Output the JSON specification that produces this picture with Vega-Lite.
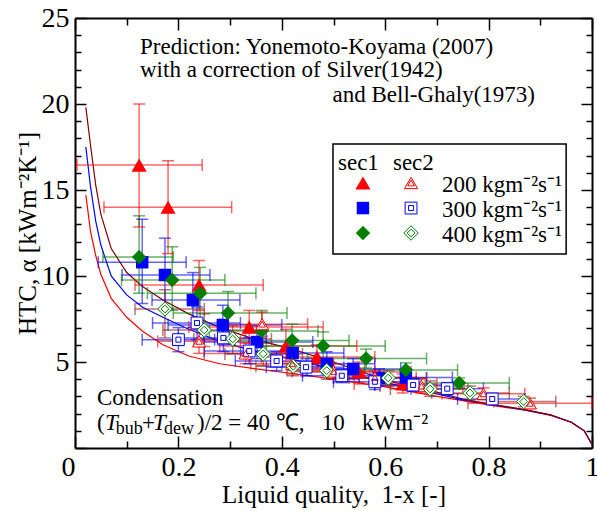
{
  "$schema": "https://vega.github.io/schema/vega-lite/v6.json",
  "width": 517,
  "height": 430,
  "autosize": {"type": "none"},
  "padding": {"left": 75, "top": 18, "right": 5, "bottom": 63},
  "background": "white",
  "config": {
    "view": {"stroke": null},
    "font": "Liberation Serif",
    "axis": {"grid": false, "domainColor": "black", "domainWidth": 2, "tickColor": "black", "tickWidth": 1.5, "labelColor": "black", "titleColor": "black", "labelFont": "Liberation Serif", "titleFont": "Liberation Serif", "labelFontSize": 28, "titleFontSize": 25, "titleFontWeight": "normal"}
  },
  "datasets": {
    "curves": [
      {"c": "G200", "x": 0.021, "y": 14.7}, {"c": "G200", "x": 0.03, "y": 12.6}, {"c": "G200", "x": 0.04, "y": 11.2}, {"c": "G200", "x": 0.05, "y": 10.1}, {"c": "G200", "x": 0.07, "y": 8.7}, {"c": "G200", "x": 0.1, "y": 7.6}, {"c": "G200", "x": 0.13, "y": 6.8}, {"c": "G200", "x": 0.17, "y": 6.0}, {"c": "G200", "x": 0.22, "y": 5.35}, {"c": "G200", "x": 0.28, "y": 4.9}, {"c": "G200", "x": 0.35, "y": 4.6}, {"c": "G200", "x": 0.42, "y": 4.33}, {"c": "G200", "x": 0.5, "y": 4.0}, {"c": "G200", "x": 0.6, "y": 3.55}, {"c": "G200", "x": 0.7, "y": 3.0}, {"c": "G200", "x": 0.75, "y": 2.75}, {"c": "G200", "x": 0.8, "y": 2.5}, {"c": "G200", "x": 0.87, "y": 2.2}, {"c": "G200", "x": 0.92, "y": 1.9}, {"c": "G200", "x": 0.96, "y": 1.5}, {"c": "G200", "x": 0.985, "y": 1.0}, {"c": "G200", "x": 1.0, "y": 0.2},
      {"c": "G300", "x": 0.021, "y": 17.5}, {"c": "G300", "x": 0.03, "y": 15.2}, {"c": "G300", "x": 0.04, "y": 13.2}, {"c": "G300", "x": 0.05, "y": 11.8}, {"c": "G300", "x": 0.07, "y": 10.0}, {"c": "G300", "x": 0.1, "y": 8.9}, {"c": "G300", "x": 0.13, "y": 8.2}, {"c": "G300", "x": 0.17, "y": 7.6}, {"c": "G300", "x": 0.22, "y": 6.9}, {"c": "G300", "x": 0.28, "y": 6.2}, {"c": "G300", "x": 0.35, "y": 5.6}, {"c": "G300", "x": 0.42, "y": 5.15}, {"c": "G300", "x": 0.5, "y": 4.6}, {"c": "G300", "x": 0.6, "y": 3.8}, {"c": "G300", "x": 0.7, "y": 3.15}, {"c": "G300", "x": 0.75, "y": 2.8}, {"c": "G300", "x": 0.8, "y": 2.55}, {"c": "G300", "x": 0.87, "y": 2.22}, {"c": "G300", "x": 0.92, "y": 1.92}, {"c": "G300", "x": 0.96, "y": 1.5}, {"c": "G300", "x": 0.985, "y": 1.0}, {"c": "G300", "x": 1.0, "y": 0.2},
      {"c": "G400", "x": 0.021, "y": 19.8}, {"c": "G400", "x": 0.03, "y": 17.6}, {"c": "G400", "x": 0.04, "y": 15.3}, {"c": "G400", "x": 0.05, "y": 13.6}, {"c": "G400", "x": 0.07, "y": 11.6}, {"c": "G400", "x": 0.1, "y": 10.2}, {"c": "G400", "x": 0.13, "y": 9.4}, {"c": "G400", "x": 0.17, "y": 8.6}, {"c": "G400", "x": 0.22, "y": 7.8}, {"c": "G400", "x": 0.28, "y": 7.0}, {"c": "G400", "x": 0.35, "y": 6.3}, {"c": "G400", "x": 0.42, "y": 5.75}, {"c": "G400", "x": 0.5, "y": 5.0}, {"c": "G400", "x": 0.6, "y": 3.95}, {"c": "G400", "x": 0.7, "y": 3.25}, {"c": "G400", "x": 0.75, "y": 2.85}, {"c": "G400", "x": 0.8, "y": 2.57}, {"c": "G400", "x": 0.87, "y": 2.24}, {"c": "G400", "x": 0.92, "y": 1.93}, {"c": "G400", "x": 0.96, "y": 1.5}, {"c": "G400", "x": 0.985, "y": 1.0}, {"c": "G400", "x": 1.0, "y": 0.2}
    ],
    "pts": [
      {"grp": "s1_200", "s": "sec1", "G": 200, "x": 0.124, "y": 16.45, "xlo": 0.004, "xhi": 0.246, "ylo": 12.85, "yhi": 20.0},
      {"grp": "s1_200", "s": "sec1", "G": 200, "x": 0.180, "y": 14.0, "xlo": 0.056, "xhi": 0.303, "ylo": 11.3, "yhi": 16.7},
      {"grp": "s1_200", "s": "sec1", "G": 200, "x": 0.240, "y": 9.48, "xlo": 0.116, "xhi": 0.364, "ylo": 8.0, "yhi": 10.9},
      {"grp": "s1_200", "s": "sec1", "G": 200, "x": 0.337, "y": 7.03, "xlo": 0.22, "xhi": 0.48, "ylo": 6.1, "yhi": 8.0},
      {"grp": "s1_200", "s": "sec1", "G": 200, "x": 0.408, "y": 5.93, "xlo": 0.28, "xhi": 0.545, "ylo": 5.0, "yhi": 6.9},
      {"grp": "s1_200", "s": "sec1", "G": 200, "x": 0.468, "y": 5.29, "xlo": 0.36, "xhi": 0.58, "ylo": 4.6, "yhi": 6.0},
      {"grp": "s1_200", "s": "sec1", "G": 200, "x": 0.549, "y": 4.42, "xlo": 0.44, "xhi": 0.65, "ylo": 3.8, "yhi": 5.0},
      {"grp": "s1_200", "s": "sec1", "G": 200, "x": 0.634, "y": 3.72, "xlo": 0.54, "xhi": 0.70, "ylo": 3.2, "yhi": 4.3},
      {"grp": "s1_300", "s": "sec1", "G": 300, "x": 0.130, "y": 10.8, "xlo": 0.045, "xhi": 0.215, "ylo": 8.4, "yhi": 13.3},
      {"grp": "s1_300", "s": "sec1", "G": 300, "x": 0.174, "y": 10.06, "xlo": 0.091, "xhi": 0.261, "ylo": 8.0, "yhi": 12.2},
      {"grp": "s1_300", "s": "sec1", "G": 300, "x": 0.228, "y": 8.6, "xlo": 0.149, "xhi": 0.319, "ylo": 7.0, "yhi": 10.2},
      {"grp": "s1_300", "s": "sec1", "G": 300, "x": 0.286, "y": 7.15, "xlo": 0.18, "xhi": 0.40, "ylo": 6.0, "yhi": 8.3},
      {"grp": "s1_300", "s": "sec1", "G": 300, "x": 0.352, "y": 6.16, "xlo": 0.25, "xhi": 0.46, "ylo": 5.2, "yhi": 7.1},
      {"grp": "s1_300", "s": "sec1", "G": 300, "x": 0.421, "y": 5.52, "xlo": 0.32, "xhi": 0.52, "ylo": 4.7, "yhi": 6.3},
      {"grp": "s1_300", "s": "sec1", "G": 300, "x": 0.487, "y": 4.9, "xlo": 0.40, "xhi": 0.58, "ylo": 4.3, "yhi": 5.6},
      {"grp": "s1_300", "s": "sec1", "G": 300, "x": 0.538, "y": 4.6, "xlo": 0.45, "xhi": 0.63, "ylo": 4.0, "yhi": 5.2},
      {"grp": "s1_300", "s": "sec1", "G": 300, "x": 0.588, "y": 4.07, "xlo": 0.50, "xhi": 0.68, "ylo": 3.6, "yhi": 4.6},
      {"grp": "s1_300", "s": "sec1", "G": 300, "x": 0.640, "y": 4.1, "xlo": 0.55, "xhi": 0.73, "ylo": 3.6, "yhi": 4.6},
      {"grp": "s1_400", "s": "sec1", "G": 400, "x": 0.124, "y": 11.1, "xlo": 0.054, "xhi": 0.19, "ylo": 9.0, "yhi": 13.5},
      {"grp": "s1_400", "s": "sec1", "G": 400, "x": 0.188, "y": 9.77, "xlo": 0.09, "xhi": 0.29, "ylo": 8.0, "yhi": 11.7},
      {"grp": "s1_400", "s": "sec1", "G": 400, "x": 0.242, "y": 9.0, "xlo": 0.14, "xhi": 0.35, "ylo": 7.4, "yhi": 10.5},
      {"grp": "s1_400", "s": "sec1", "G": 400, "x": 0.296, "y": 7.85, "xlo": 0.19, "xhi": 0.41, "ylo": 6.6, "yhi": 9.1},
      {"grp": "s1_400", "s": "sec1", "G": 400, "x": 0.361, "y": 6.8, "xlo": 0.26, "xhi": 0.47, "ylo": 5.9, "yhi": 8.0},
      {"grp": "s1_400", "s": "sec1", "G": 400, "x": 0.42, "y": 6.25, "xlo": 0.31, "xhi": 0.53, "ylo": 5.4, "yhi": 7.2},
      {"grp": "s1_400", "s": "sec1", "G": 400, "x": 0.48, "y": 5.93, "xlo": 0.37, "xhi": 0.60, "ylo": 5.1, "yhi": 6.75},
      {"grp": "s1_400", "s": "sec1", "G": 400, "x": 0.563, "y": 5.2, "xlo": 0.45, "xhi": 0.68, "ylo": 4.65, "yhi": 5.75},
      {"grp": "s1_400", "s": "sec1", "G": 400, "x": 0.64, "y": 4.53, "xlo": 0.54, "xhi": 0.74, "ylo": 4.1, "yhi": 4.95},
      {"grp": "s1_400", "s": "sec1", "G": 400, "x": 0.743, "y": 3.78, "xlo": 0.64, "xhi": 0.84, "ylo": 3.5, "yhi": 4.07},
      {"grp": "s2_200", "s": "sec2", "G": 200, "x": 0.362, "y": 7.2, "xlo": 0.28, "xhi": 0.45, "ylo": 6.5, "yhi": 7.9},
      {"grp": "s2_200", "s": "sec2", "G": 200, "x": 0.24, "y": 6.2, "xlo": 0.16, "xhi": 0.32, "ylo": 5.5, "yhi": 6.9},
      {"grp": "s2_200", "s": "sec2", "G": 200, "x": 0.33, "y": 5.5, "xlo": 0.25, "xhi": 0.41, "ylo": 4.9, "yhi": 6.1},
      {"grp": "s2_200", "s": "sec2", "G": 200, "x": 0.42, "y": 4.9, "xlo": 0.34, "xhi": 0.50, "ylo": 4.3, "yhi": 5.5},
      {"grp": "s2_200", "s": "sec2", "G": 200, "x": 0.50, "y": 4.45, "xlo": 0.42, "xhi": 0.58, "ylo": 4.0, "yhi": 4.9},
      {"grp": "s2_200", "s": "sec2", "G": 200, "x": 0.58, "y": 4.1, "xlo": 0.50, "xhi": 0.66, "ylo": 3.7, "yhi": 4.5},
      {"grp": "s2_200", "s": "sec2", "G": 200, "x": 0.67, "y": 3.6, "xlo": 0.59, "xhi": 0.75, "ylo": 3.2, "yhi": 4.0},
      {"grp": "s2_200", "s": "sec2", "G": 200, "x": 0.79, "y": 3.15, "xlo": 0.71, "xhi": 0.87, "ylo": 2.8, "yhi": 3.5},
      {"grp": "s2_200", "s": "sec2", "G": 200, "x": 0.88, "y": 2.6, "xlo": 0.76, "xhi": 1.0, "ylo": 2.3, "yhi": 2.9},
      {"grp": "s2_300", "s": "sec2", "G": 300, "x": 0.20, "y": 6.3, "xlo": 0.13, "xhi": 0.27, "ylo": 5.6, "yhi": 7.0},
      {"grp": "s2_300", "s": "sec2", "G": 300, "x": 0.236, "y": 7.27, "xlo": 0.15, "xhi": 0.32, "ylo": 6.3, "yhi": 8.2},
      {"grp": "s2_300", "s": "sec2", "G": 300, "x": 0.287, "y": 6.4, "xlo": 0.20, "xhi": 0.37, "ylo": 5.6, "yhi": 7.2},
      {"grp": "s2_300", "s": "sec2", "G": 300, "x": 0.337, "y": 5.64, "xlo": 0.25, "xhi": 0.42, "ylo": 4.9, "yhi": 6.4},
      {"grp": "s2_300", "s": "sec2", "G": 300, "x": 0.39, "y": 5.06, "xlo": 0.31, "xhi": 0.47, "ylo": 4.5, "yhi": 5.6},
      {"grp": "s2_300", "s": "sec2", "G": 300, "x": 0.447, "y": 4.7, "xlo": 0.37, "xhi": 0.52, "ylo": 4.2, "yhi": 5.2},
      {"grp": "s2_300", "s": "sec2", "G": 300, "x": 0.516, "y": 4.2, "xlo": 0.44, "xhi": 0.59, "ylo": 3.8, "yhi": 4.6},
      {"grp": "s2_300", "s": "sec2", "G": 300, "x": 0.58, "y": 3.85, "xlo": 0.50, "xhi": 0.66, "ylo": 3.4, "yhi": 4.3},
      {"grp": "s2_300", "s": "sec2", "G": 300, "x": 0.654, "y": 3.66, "xlo": 0.58, "xhi": 0.73, "ylo": 3.3, "yhi": 4.0},
      {"grp": "s2_300", "s": "sec2", "G": 300, "x": 0.72, "y": 3.45, "xlo": 0.65, "xhi": 0.79, "ylo": 3.1, "yhi": 3.8},
      {"grp": "s2_300", "s": "sec2", "G": 300, "x": 0.807, "y": 2.85, "xlo": 0.74, "xhi": 0.87, "ylo": 2.6, "yhi": 3.1},
      {"grp": "s2_400", "s": "sec2", "G": 400, "x": 0.174, "y": 8.08, "xlo": 0.116, "xhi": 0.25, "ylo": 6.4, "yhi": 9.2},
      {"grp": "s2_400", "s": "sec2", "G": 400, "x": 0.25, "y": 6.86, "xlo": 0.17, "xhi": 0.33, "ylo": 5.9, "yhi": 7.8},
      {"grp": "s2_400", "s": "sec2", "G": 400, "x": 0.305, "y": 6.34, "xlo": 0.23, "xhi": 0.38, "ylo": 5.5, "yhi": 7.1},
      {"grp": "s2_400", "s": "sec2", "G": 400, "x": 0.364, "y": 5.47, "xlo": 0.29, "xhi": 0.44, "ylo": 4.8, "yhi": 6.1},
      {"grp": "s2_400", "s": "sec2", "G": 400, "x": 0.422, "y": 4.75, "xlo": 0.35, "xhi": 0.50, "ylo": 4.2, "yhi": 5.3},
      {"grp": "s2_400", "s": "sec2", "G": 400, "x": 0.487, "y": 4.5, "xlo": 0.41, "xhi": 0.56, "ylo": 4.0, "yhi": 5.0},
      {"grp": "s2_400", "s": "sec2", "G": 400, "x": 0.606, "y": 4.07, "xlo": 0.53, "xhi": 0.68, "ylo": 3.6, "yhi": 4.5},
      {"grp": "s2_400", "s": "sec2", "G": 400, "x": 0.687, "y": 3.43, "xlo": 0.61, "xhi": 0.76, "ylo": 3.0, "yhi": 3.9},
      {"grp": "s2_400", "s": "sec2", "G": 400, "x": 0.764, "y": 3.2, "xlo": 0.69, "xhi": 0.84, "ylo": 2.8, "yhi": 3.6},
      {"grp": "s2_400", "s": "sec2", "G": 400, "x": 0.868, "y": 2.7, "xlo": 0.81, "xhi": 0.93, "ylo": 2.4, "yhi": 3.0}
    ],
    "leg": [
      {"s": "sec1", "G": 200, "x": 0.557, "y": 15.41}, {"s": "sec1", "G": 300, "x": 0.557, "y": 13.95}, {"s": "sec1", "G": 400, "x": 0.557, "y": 12.5},
      {"s": "sec2", "G": 200, "x": 0.650, "y": 15.41}, {"s": "sec2", "G": 300, "x": 0.650, "y": 13.95}, {"s": "sec2", "G": 400, "x": 0.650, "y": 12.5}
    ],
    "legText": [
      {"x": 0.5087, "y": 16.57, "t": "sec1"}, {"x": 0.615, "y": 16.57, "t": "sec2"},
      {"x": 0.7099, "y": 15.3, "t": "200 kgm⁻²s⁻¹"}, {"x": 0.7099, "y": 13.85, "t": "300 kgm⁻²s⁻¹"}, {"x": 0.7099, "y": 12.4, "t": "400 kgm⁻²s⁻¹"}
    ],
    "ann": [
      {"x": 0.1257, "y": 23.31, "t": "Prediction: Yonemoto-Koyama (2007)"},
      {"x": 0.1257, "y": 21.98, "t": "with a correction of Silver(1942)"},
      {"x": 0.0426, "y": 2.91, "t": "Condensation"},
      {"x": 0.0426, "y": 1.45, "t": "("},
      {"x": 0.1296, "y": 1.45, "t": "+"},
      {"x": 0.236, "y": 1.45, "t": ")/2 = 40 ℃,\u00a0\u00a0 10\u00a0\u00a0 kWm⁻²"}
    ],
    "annR": [{"x": 0.8897, "y": 20.52, "t": "and Bell-Ghaly(1973)"}],
    "annI": [{"x": 0.058, "y": 1.45, "t": "T"}, {"x": 0.1509, "y": 1.45, "t": "T"}],
    "annS": [{"x": 0.079, "y": 1.1, "t": "bub"}, {"x": 0.172, "y": 1.1, "t": "dew"}]
  },
  "layer": [
    {
      "data": {"name": "curves"},
      "mark": {"type": "line", "strokeWidth": 1.2},
      "encoding": {
        "x": {"field": "x", "type": "quantitative", "scale": {"domain": [0, 1], "nice": false, "zero": false},
          "axis": {"orient": "bottom", "values": [0, 0.1, 0.2, 0.3, 0.4, 0.5, 0.6, 0.7, 0.8, 0.9, 1], "format": "~g",
            "labelExpr": "(datum.value===0||datum.value===0.2||datum.value===0.4||datum.value===0.6||datum.value===0.8||datum.value===1)?datum.label:''",
            "tickSize": {"condition": {"test": "datum.value===0||datum.value===0.2||datum.value===0.4||datum.value===0.6||datum.value===0.8||datum.value===1", "value": -12}, "value": -7},
            "labelAlign": {"condition": {"test": "datum.value===0", "value": "right"}, "value": "center"},
            "labelPadding": 17, "labelFlush": false, "labelOverlap": false, "labelBound": false,
            "title": "Liquid quality,\u00a0 1-x [-]", "titleFontSize": 25, "titlePadding": -4}},
        "y": {"field": "y", "type": "quantitative", "scale": {"domain": [0, 25], "nice": false, "zero": false},
          "axis": {"orient": "left", "values": [0, 1, 2, 3, 4, 5, 6, 7, 8, 9, 10, 11, 12, 13, 14, 15, 16, 17, 18, 19, 20, 21, 22, 23, 24, 25],
            "labelExpr": "(datum.value%5===0&&datum.value>0)?datum.label:''",
            "tickSize": {"condition": {"test": "datum.value%5===0", "value": -11}, "value": -6},
            "labelPadding": 17, "labelFlush": false, "labelOverlap": false, "labelBound": false,
            "title": "HTC, α [kWm⁻²K⁻¹]", "titlePadding": 1}},
        "color": {"field": "c", "type": "nominal", "scale": {"domain": ["G200", "G300", "G400"], "range": ["#ff0000", "#0000ff", "#800000"]}, "legend": null}
      }
    },
    {
      "data": {"name": "pts"},
      "mark": {"type": "rule", "opacity": 0.6, "strokeWidth": 1.5},
      "encoding": {
        "x": {"field": "xlo", "type": "quantitative", "axis": null}, "x2": {"field": "xhi"},
        "y": {"field": "y", "type": "quantitative", "axis": null},
        "color": {"field": "grp", "type": "nominal", "scale": {"domain": ["s1_200", "s1_300", "s1_400", "s2_200", "s2_300", "s2_400"], "range": ["#ff0000", "#0000ff", "#007f00", "#ff0000", "#0000ff", "#8b1a1a"]}, "legend": null}
      }
    },
    {
      "data": {"name": "pts"},
      "mark": {"type": "rule", "opacity": 0.6, "strokeWidth": 1.5},
      "encoding": {
        "x": {"field": "x", "type": "quantitative", "axis": null},
        "y": {"field": "ylo", "type": "quantitative", "axis": null}, "y2": {"field": "yhi"},
        "color": {"field": "grp", "type": "nominal", "scale": {"domain": ["s1_200", "s1_300", "s1_400", "s2_200", "s2_300", "s2_400"], "range": ["#ff0000", "#0000ff", "#007f00", "#ff0000", "#0000ff", "#8b1a1a"]}, "legend": null}
      }
    },
    {
      "data": {"name": "pts"},
      "mark": {"type": "tick", "orient": "vertical", "size": 12, "thickness": 1.5, "opacity": 0.6},
      "encoding": {
        "x": {"field": "xlo", "type": "quantitative", "axis": null},
        "y": {"field": "y", "type": "quantitative", "axis": null},
        "color": {"field": "grp", "type": "nominal", "scale": {"domain": ["s1_200", "s1_300", "s1_400", "s2_200", "s2_300", "s2_400"], "range": ["#ff0000", "#0000ff", "#007f00", "#ff0000", "#0000ff", "#8b1a1a"]}, "legend": null}
      }
    },
    {
      "data": {"name": "pts"},
      "mark": {"type": "tick", "orient": "vertical", "size": 12, "thickness": 1.5, "opacity": 0.6},
      "encoding": {
        "x": {"field": "xhi", "type": "quantitative", "axis": null},
        "y": {"field": "y", "type": "quantitative", "axis": null},
        "color": {"field": "grp", "type": "nominal", "scale": {"domain": ["s1_200", "s1_300", "s1_400", "s2_200", "s2_300", "s2_400"], "range": ["#ff0000", "#0000ff", "#007f00", "#ff0000", "#0000ff", "#8b1a1a"]}, "legend": null}
      }
    },
    {
      "data": {"name": "pts"},
      "mark": {"type": "tick", "orient": "horizontal", "size": 12, "thickness": 1.5, "opacity": 0.6},
      "encoding": {
        "x": {"field": "x", "type": "quantitative", "axis": null},
        "y": {"field": "ylo", "type": "quantitative", "axis": null},
        "color": {"field": "grp", "type": "nominal", "scale": {"domain": ["s1_200", "s1_300", "s1_400", "s2_200", "s2_300", "s2_400"], "range": ["#ff0000", "#0000ff", "#007f00", "#ff0000", "#0000ff", "#8b1a1a"]}, "legend": null}
      }
    },
    {
      "data": {"name": "pts"},
      "mark": {"type": "tick", "orient": "horizontal", "size": 12, "thickness": 1.5, "opacity": 0.6},
      "encoding": {
        "x": {"field": "x", "type": "quantitative", "axis": null},
        "y": {"field": "yhi", "type": "quantitative", "axis": null},
        "color": {"field": "grp", "type": "nominal", "scale": {"domain": ["s1_200", "s1_300", "s1_400", "s2_200", "s2_300", "s2_400"], "range": ["#ff0000", "#0000ff", "#007f00", "#ff0000", "#0000ff", "#8b1a1a"]}, "legend": null}
      }
    },
    {
      "data": {"name": "pts"},
      "transform": [{"filter": "datum.s === 'sec1'"}],
      "mark": {"type": "point", "filled": true, "opacity": 1, "strokeWidth": 0},
      "encoding": {
        "x": {"field": "x", "type": "quantitative", "axis": null},
        "y": {"field": "y", "type": "quantitative", "axis": null},
        "shape": {"field": "G", "type": "nominal", "scale": {"domain": [200, 300, 400], "range": ["triangle-up", "square", "diamond"]}, "legend": null},
        "color": {"field": "G", "type": "nominal", "scale": {"domain": [200, 300, 400], "range": ["#ff0000", "#0000ff", "#007f00"]}, "legend": null},
        "size": {"field": "G", "type": "nominal", "scale": {"type": "ordinal", "domain": [200, 300, 400], "range": [230, 155, 210]}, "legend": null}
      }
    },
    {
      "data": {"name": "pts"},
      "transform": [{"filter": "datum.s === 'sec2'"}],
      "mark": {"type": "point", "filled": false, "fill": "white", "fillOpacity": 1, "opacity": 1, "strokeWidth": 1},
      "encoding": {
        "x": {"field": "x", "type": "quantitative", "axis": null},
        "y": {"field": "y", "type": "quantitative", "axis": null},
        "shape": {"field": "G", "type": "nominal", "scale": {"domain": [200, 300, 400], "range": ["triangle-up", "square", "diamond"]}, "legend": null},
        "color": {"field": "G", "type": "nominal", "scale": {"domain": [200, 300, 400], "range": ["#ff0000", "#0000ff", "#007f00"]}, "legend": null},
        "size": {"field": "G", "type": "nominal", "scale": {"type": "ordinal", "domain": [200, 300, 400], "range": [170, 140, 210]}, "legend": null}
      }
    },
    {
      "data": {"name": "pts"},
      "transform": [{"filter": "datum.s === 'sec2'"}],
      "mark": {"type": "point", "filled": false, "opacity": 1, "strokeWidth": 1},
      "encoding": {
        "x": {"field": "x", "type": "quantitative", "axis": null},
        "y": {"field": "y", "type": "quantitative", "axis": null},
        "shape": {"field": "G", "type": "nominal", "scale": {"domain": [200, 300, 400], "range": ["triangle-up", "square", "diamond"]}, "legend": null},
        "color": {"field": "G", "type": "nominal", "scale": {"domain": [200, 300, 400], "range": ["#ff0000", "#0000ff", "#007f00"]}, "legend": null},
        "size": {"field": "G", "type": "nominal", "scale": {"type": "ordinal", "domain": [200, 300, 400], "range": [45, 25, 60]}, "legend": null}
      }
    },
    {
      "data": {"values": [{"x": 0.499, "x2": 0.950, "y": 11.28, "y2": 17.67}]},
      "mark": {"type": "rect", "fill": "white", "stroke": "black", "strokeWidth": 1.5},
      "encoding": {
        "x": {"field": "x", "type": "quantitative",
          "axis": {"orient": "top", "values": [0, 0.1, 0.2, 0.3, 0.4, 0.5, 0.6, 0.7, 0.8, 0.9, 1], "labels": false, "title": null,
            "tickSize": {"condition": {"test": "datum.value===0||datum.value===0.2||datum.value===0.4||datum.value===0.6||datum.value===0.8||datum.value===1", "value": -12}, "value": -7}}},
        "x2": {"field": "x2"},
        "y": {"field": "y", "type": "quantitative",
          "axis": {"orient": "right", "values": [0, 1, 2, 3, 4, 5, 6, 7, 8, 9, 10, 11, 12, 13, 14, 15, 16, 17, 18, 19, 20, 21, 22, 23, 24, 25], "labels": false, "title": null,
            "tickSize": {"condition": {"test": "datum.value%5===0", "value": -11}, "value": -6}}},
        "y2": {"field": "y2"}
      }
    },
    {
      "data": {"name": "leg"},
      "transform": [{"filter": "datum.s === 'sec1'"}],
      "mark": {"type": "point", "filled": true, "opacity": 1, "strokeWidth": 0},
      "encoding": {
        "x": {"field": "x", "type": "quantitative", "axis": null},
        "y": {"field": "y", "type": "quantitative", "axis": null},
        "shape": {"field": "G", "type": "nominal", "scale": {"domain": [200, 300, 400], "range": ["triangle-up", "square", "diamond"]}, "legend": null},
        "color": {"field": "G", "type": "nominal", "scale": {"domain": [200, 300, 400], "range": ["#ff0000", "#0000ff", "#007f00"]}, "legend": null},
        "size": {"field": "G", "type": "nominal", "scale": {"type": "ordinal", "domain": [200, 300, 400], "range": [230, 155, 210]}, "legend": null}
      }
    },
    {
      "data": {"name": "leg"},
      "transform": [{"filter": "datum.s === 'sec2'"}],
      "mark": {"type": "point", "filled": false, "fill": "white", "fillOpacity": 1, "opacity": 1, "strokeWidth": 1},
      "encoding": {
        "x": {"field": "x", "type": "quantitative", "axis": null},
        "y": {"field": "y", "type": "quantitative", "axis": null},
        "shape": {"field": "G", "type": "nominal", "scale": {"domain": [200, 300, 400], "range": ["triangle-up", "square", "diamond"]}, "legend": null},
        "color": {"field": "G", "type": "nominal", "scale": {"domain": [200, 300, 400], "range": ["#ff0000", "#0000ff", "#007f00"]}, "legend": null},
        "size": {"field": "G", "type": "nominal", "scale": {"type": "ordinal", "domain": [200, 300, 400], "range": [170, 140, 210]}, "legend": null}
      }
    },
    {
      "data": {"name": "leg"},
      "transform": [{"filter": "datum.s === 'sec2'"}],
      "mark": {"type": "point", "filled": false, "opacity": 1, "strokeWidth": 1},
      "encoding": {
        "x": {"field": "x", "type": "quantitative", "axis": null},
        "y": {"field": "y", "type": "quantitative", "axis": null},
        "shape": {"field": "G", "type": "nominal", "scale": {"domain": [200, 300, 400], "range": ["triangle-up", "square", "diamond"]}, "legend": null},
        "color": {"field": "G", "type": "nominal", "scale": {"domain": [200, 300, 400], "range": ["#ff0000", "#0000ff", "#007f00"]}, "legend": null},
        "size": {"field": "G", "type": "nominal", "scale": {"type": "ordinal", "domain": [200, 300, 400], "range": [45, 25, 60]}, "legend": null}
      }
    },
    {
      "data": {"name": "legText"},
      "mark": {"type": "text", "align": "left", "baseline": "middle", "font": "Liberation Serif", "fontSize": 23, "color": "black"},
      "encoding": {
        "x": {"field": "x", "type": "quantitative", "axis": null},
        "y": {"field": "y", "type": "quantitative", "axis": null},
        "text": {"field": "t"}
      }
    },
    {
      "data": {"name": "ann"},
      "mark": {"type": "text", "align": "left", "baseline": "middle", "font": "Liberation Serif", "fontSize": 23, "color": "black"},
      "encoding": {
        "x": {"field": "x", "type": "quantitative", "axis": null},
        "y": {"field": "y", "type": "quantitative", "axis": null},
        "text": {"field": "t"}
      }
    },
    {
      "data": {"name": "annR"},
      "mark": {"type": "text", "align": "right", "baseline": "middle", "font": "Liberation Serif", "fontSize": 23, "color": "black"},
      "encoding": {
        "x": {"field": "x", "type": "quantitative", "axis": null},
        "y": {"field": "y", "type": "quantitative", "axis": null},
        "text": {"field": "t"}
      }
    },
    {
      "data": {"name": "annI"},
      "mark": {"type": "text", "align": "left", "baseline": "middle", "font": "Liberation Serif", "fontSize": 23, "fontStyle": "italic", "color": "black"},
      "encoding": {
        "x": {"field": "x", "type": "quantitative", "axis": null},
        "y": {"field": "y", "type": "quantitative", "axis": null},
        "text": {"field": "t"}
      }
    },
    {
      "data": {"name": "annS"},
      "mark": {"type": "text", "align": "left", "baseline": "middle", "font": "Liberation Serif", "fontSize": 18, "color": "black"},
      "encoding": {
        "x": {"field": "x", "type": "quantitative", "axis": null},
        "y": {"field": "y", "type": "quantitative", "axis": null},
        "text": {"field": "t"}
      }
    }
  ],
  "resolve": {
    "axis": {"x": "independent", "y": "independent"},
    "scale": {"color": "independent", "shape": "independent", "size": "independent"}
  }
}
